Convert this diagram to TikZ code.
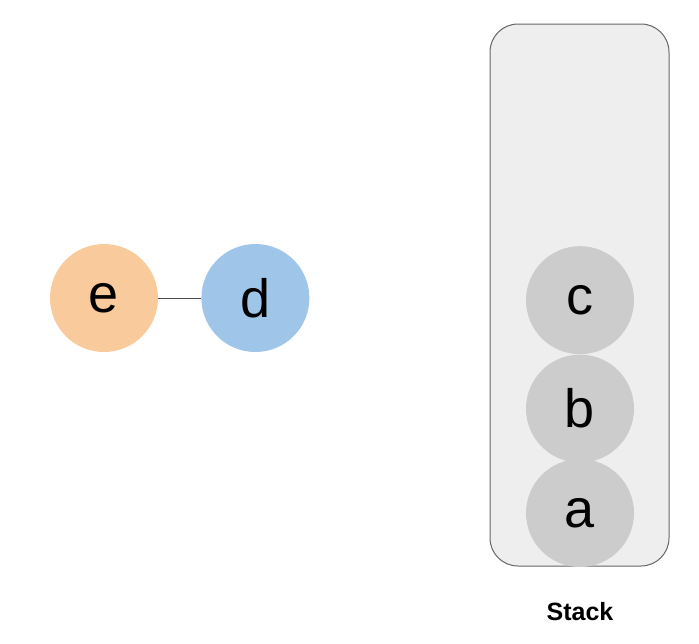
\documentclass[tikz,border=0pt]{standalone}
\usepackage{fontspec}
\setmainfont{Liberation Sans}
\usetikzlibrary{positioning}

\definecolor{vorange}{HTML}{F9CB9C}
\definecolor{vblue}{HTML}{9FC5E8}
\definecolor{vgrey}{HTML}{CCCCCC}
\definecolor{stackfill}{HTML}{EEEEEE}
\definecolor{stackline}{HTML}{666666}

\begin{document}
\begin{tikzpicture}[x=1pt,y=-1pt,
vertex/.style={circle,draw=none,minimum size=108pt,inner sep=0pt,font=\fontsize{54}{54}\selectfont},
stackitem/.style={vertex,fill=vgrey}]

\tikzset{edge/.style={draw=black!70,line width=1pt}}

\useasboundingbox (0,0) rectangle (699,643);

% the stack
\draw[stackline,fill=stackfill,line width=1pt,rounded corners=28pt] (490,24) rectangle (669,566);
\node[font=\bfseries\fontsize{25}{25}\selectfont] (stacklabel) at (580,612) {Stack};

\node[stackitem] (a) at (580,513) {a};
\node[stackitem,above=-4pt of a] (b) {b};
\node[stackitem,above=0pt of b] (c) {c};

% the graph
\node[vertex,fill=vorange] (e) at (104,298) {e};
\node[vertex,fill=vblue,right=43pt of e] (d) {d};
\draw[edge] (e) -- (d);

\end{tikzpicture}
\end{document}
